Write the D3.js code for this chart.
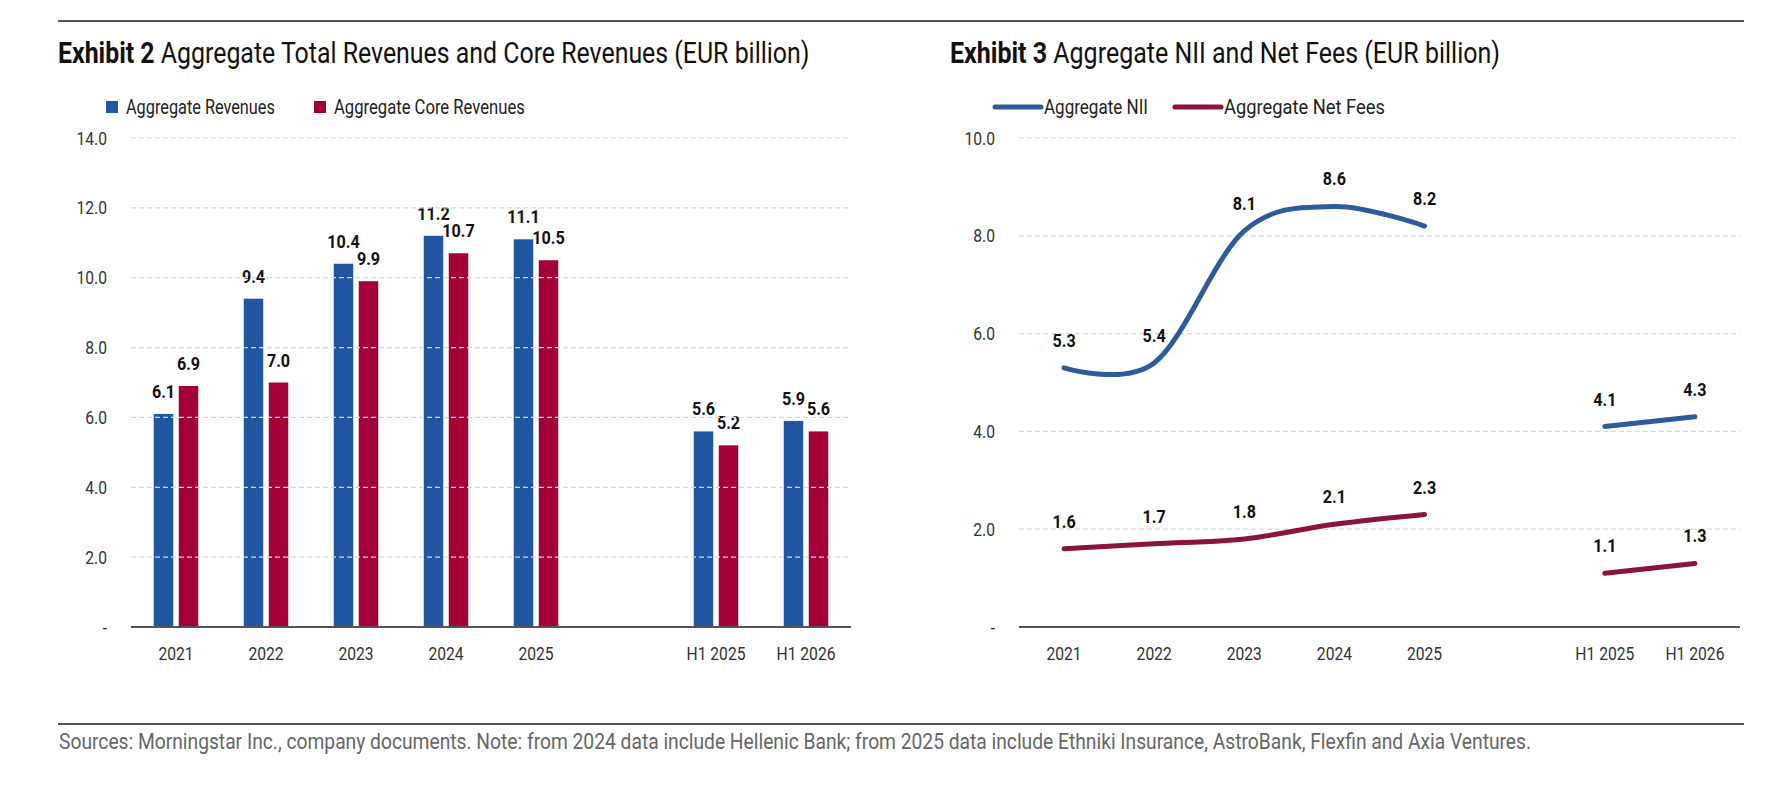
<!DOCTYPE html>
<html>
<head>
<meta charset="utf-8">
<script src="https://cdn.jsdelivr.net/npm/d3@7"></script>
<style>
  html, body { margin: 0; padding: 0; background: #fff; }
  svg { display: block; }
  text { font-family: Roboto, "DejaVu Sans Condensed", sans-serif; }
</style>
</head>
<body>
<svg id="chart" width="1784" height="805"></svg>
<script>
// ---------- data ----------
const categories = ["2021", "2022", "2023", "2024", "2025", "gap", "H1 2025", "H1 2026"];
const revenues     = [6.1, 9.4, 10.4, 11.2, 11.1, null, 5.6, 5.9];
const coreRevenues = [6.9, 7.0, 9.9, 10.7, 10.5, null, 5.2, 5.6];
const nii          = [5.3, 5.4, 8.1, 8.6, 8.2, null, 4.1, 4.3];
const netFees      = [1.6, 1.7, 1.8, 2.1, 2.3, null, 1.1, 1.3];
const leftTicks  = [0, 2, 4, 6, 8, 10, 12, 14];
const rightTicks = [0, 2, 4, 6, 8, 10];
const barSeries  = ["Aggregate Revenues", "Aggregate Core Revenues"];
const lineSeries = ["Aggregate NII", "Aggregate Net Fees"];
const title2Bold = "Exhibit 2", title2 = " Aggregate Total Revenues and Core Revenues (EUR billion)";
const title3Bold = "Exhibit 3", title3 = " Aggregate NII and Net Fees (EUR billion)";
const sourceNote = "Sources: Morningstar Inc., company documents. Note: from 2024 data include Hellenic Bank; from 2025 data include Ethniki Insurance, AstroBank, Flexfin and Axia Ventures.";

const BLUE = "#2156a2", RED = "#a3003a";
const LBLUE = "#2e5b9b", LRED = "#8a1538";

const svg = d3.select("#chart");
const fmtTick = v => v === 0 ? "-" : d3.format(".1f")(v);
const fmt = d3.format(".1f");

// condensed-text helpers (reference uses a condensed face)
function measure(str, size, weight) {
  const t = svg.append("text").attr("font-size", size).attr("font-weight", weight).text(str);
  const w = t.node().getComputedTextLength();
  t.remove();
  return w;
}
const kTick  = 30.5 / measure("14.0", 18.8, "normal");
const kLabel = 32.5 / measure("11.2", 18.8, "bold");

function ctext(parent, x, y, str, o) {
  return parent.append("text")
    .attr("transform", `translate(${x},${y}) scale(${o.k},1)`)
    .attr("font-size", o.size).attr("font-weight", o.weight || "normal")
    .attr("fill", o.fill || "#111").attr("text-anchor", o.anchor || "start")
    .text(str);
}
function fit(sel, x, y, width) {
  const w = sel.node().getComputedTextLength();
  sel.attr("transform", `translate(${x},${y}) scale(${width / w},1)`);
  return sel;
}

// ---------- frame ----------
svg.append("line").attr("x1", 58).attr("x2", 1744).attr("y1", 21).attr("y2", 21)
  .attr("stroke", "#555").attr("stroke-width", 2);
svg.append("line").attr("x1", 58).attr("x2", 1744).attr("y1", 724).attr("y2", 724)
  .attr("stroke", "#555").attr("stroke-width", 1.8);
fit(svg.append("text").attr("font-size", 21.5).attr("fill", "#666").text(sourceNote), 59, 749, 1473);

function title(x, bold, rest, width) {
  const t = svg.append("text").attr("font-size", 30).attr("fill", "#111");
  t.append("tspan").attr("font-weight", "bold").text(bold);
  t.append("tspan").text(rest);
  fit(t, x, 63, width);
}
title(58, title2Bold, title2, 752);
title(950, title3Bold, title3, 550);

// ---------- common axes ----------
const Y0 = 627, YTOP = 138;
function drawAxes(x, y, ticks, x0, x1) {
  const g = svg.append("g");
  g.selectAll("line.grid").data(ticks.filter(t => t !== 0)).join("line")
    .attr("x1", x0).attr("x2", x1)
    .attr("y1", d => y(d)).attr("y2", d => y(d))
    .attr("stroke", "#d9d9d9").attr("stroke-width", 1.2).attr("stroke-dasharray", "5,3");
  ticks.forEach(t => ctext(g, x0 - 24, y(t) + 6.5, fmtTick(t),
    { k: kTick, size: 18.8, fill: "#333", anchor: "end" }));
  categories.filter(c => c !== "gap").forEach(c =>
    ctext(g, x(c) + x.bandwidth() / 2, 660, c, { k: kTick, size: 18.8, fill: "#333", anchor: "middle" }));
  g.append("line").attr("x1", x0).attr("x2", x1).attr("y1", Y0).attr("y2", Y0)
    .attr("stroke", "#555").attr("stroke-width", 1.8);
  return g;
}

// ---------- left: bar chart ----------
{
  const x0 = 131, x1 = 851;
  const x = d3.scaleBand().domain(categories).range([x0, x1]);
  const y = d3.scaleLinear().domain([0, 14]).range([Y0, YTOP]);
  const inner = d3.scaleBand().domain([0, 1]).range([-22.25, 22.25]).paddingInner(0.22);
  const colors = [BLUE, RED];
  const g = svg.append("g");
  categories.forEach((c, i) => {
    const vals = [revenues[i], coreRevenues[i]];
    if (vals[0] == null) return;
    vals.forEach((v, k) => {
      const bx = x(c) + x.bandwidth() / 2 + inner(k);
      g.append("rect").attr("x", bx).attr("width", inner.bandwidth())
        .attr("y", y(v)).attr("height", y(0) - y(v)).attr("fill", colors[k]);
      ctext(g, bx + inner.bandwidth() / 2, y(v) - 16, fmt(v),
        { k: kLabel, size: 18.8, weight: "bold", anchor: "middle" });
    });
  });
  drawAxes(x, y, leftTicks, x0, x1);
  // legend
  const lg = [{ x: 106, t: barSeries[0], c: BLUE, w: 149 }, { x: 314, t: barSeries[1], c: RED, w: 191 }];
  lg.forEach(l => {
    svg.append("rect").attr("x", l.x).attr("y", 101).attr("width", 12).attr("height", 12).attr("fill", l.c);
    fit(svg.append("text").attr("font-size", 19.5).attr("fill", "#222").text(l.t), l.x + 20, 114, l.w);
  });
}

// ---------- right: line chart ----------
{
  const x0 = 1019, x1 = 1740;
  const x = d3.scaleBand().domain(categories).range([x0, x1]);
  const y = d3.scaleLinear().domain([0, 10]).range([Y0, YTOP]);
  drawAxes(x, y, rightTicks, x0, x1);
  const cx = c => x(c) + x.bandwidth() / 2;
  const line = d3.line().defined(d => d.v != null).x(d => cx(d.c)).y(d => y(d.v))
    .curve(d3.curveCardinal.tension(0));
  [[nii, LBLUE], [netFees, LRED]].forEach(([vals, col]) => {
    const pts = categories.map((c, i) => ({ c, v: vals[i] }));
    svg.append("path").datum(pts).attr("d", line).attr("fill", "none")
      .attr("stroke", col).attr("stroke-width", 5).attr("stroke-linecap", "round");
    pts.filter(p => p.v != null).forEach(p =>
      ctext(svg, cx(p.c), y(p.v) - 21, fmt(p.v), { k: kLabel, size: 18.8, weight: "bold", anchor: "middle" }));
  });
  // legend
  const lg = [{ x: 993, t: lineSeries[0], c: LBLUE, w: 104 }, { x: 1173, t: lineSeries[1], c: LRED, w: 161 }];
  lg.forEach(l => {
    svg.append("line").attr("x1", l.x + 2).attr("x2", l.x + 48).attr("y1", 107).attr("y2", 107)
      .attr("stroke", l.c).attr("stroke-width", 5).attr("stroke-linecap", "round");
    fit(svg.append("text").attr("font-size", 19.5).attr("fill", "#222").text(l.t), l.x + 51, 114, l.w);
  });
}
</script>
</body>
</html>
